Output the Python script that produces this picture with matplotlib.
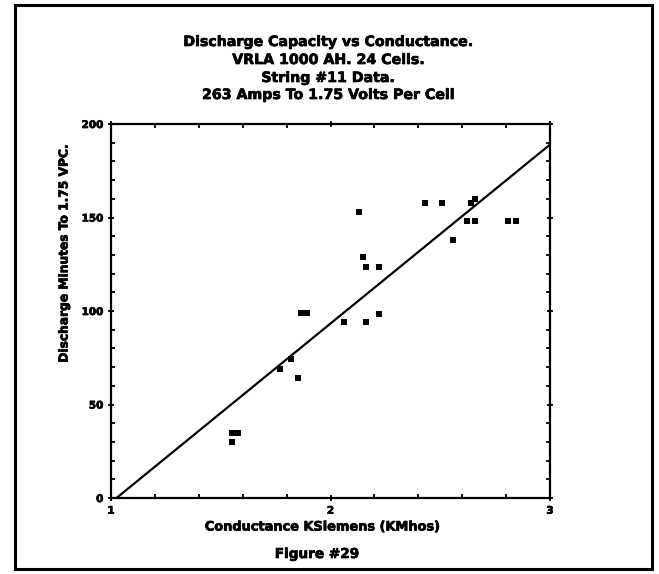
import matplotlib
matplotlib.use("Agg")
import matplotlib.pyplot as plt
import matplotlib.patheffects as pe
from matplotlib.patches import Rectangle
from matplotlib.ticker import MultipleLocator, FixedLocator

# ---- data ----
conductance = [1.55, 1.58, 1.55,
               1.77, 1.82, 1.85,
               1.866, 1.894,
               2.06, 2.16, 2.22,
               2.13, 2.15, 2.16, 2.22,
               2.43, 2.51, 2.64, 2.66,
               2.56, 2.62, 2.66, 2.81, 2.845]
minutes = [35, 35, 30,
           69, 74.5, 64,
           99, 99,
           94, 94, 98.5,
           153, 129, 123.5, 123.5,
           158, 158, 158, 160,
           138, 148, 148, 148, 148]
fit_x = [1.025, 3.0]
fit_y = [0, 189]

title_lines = ["Discharge Capacity vs Conductance.",
               "VRLA 1000 AH. 24 Cells.",
               "String #11 Data.",
               "263 Amps To 1.75 Volts Per Cell"]
x_label = "Conductance KSiemens (KMhos)"
y_label = "Discharge Minutes To 1.75 VPC."
fig_caption = "Figure #29"
x_ticks = [1, 2, 3]
y_ticks = [0, 50, 100, 150, 200]

plt.rcParams['font.family'] = ['DejaVu Sans']
W, H = 659, 574
fig = plt.figure(figsize=(W / 100, H / 100), dpi=100)
fig.patch.set_facecolor('white')

heavy = [pe.withStroke(linewidth=0.5, foreground='black')]

# outer frame
fig.patches.append(Rectangle((15 / W, 5 / H), (652 - 15) / W, (569 - 5) / H,
                             transform=fig.transFigure, fill=False,
                             edgecolor='black', linewidth=2.2))

ax = fig.add_axes([111 / W, 1 - 498 / H, (550 - 111) / W, (498 - 124) / H])
ax.set_xlim(1, 3)
ax.set_ylim(0, 200)

ax.plot(fit_x, fit_y, color='black', linewidth=1.6, solid_capstyle='butt')
ax.plot(conductance, minutes, linestyle='none', marker='s', markersize=4.9,
        color='black', markeredgewidth=0)

for s in ax.spines.values():
    s.set_linewidth(1.6)

ax.xaxis.set_major_locator(FixedLocator(x_ticks))
ax.yaxis.set_major_locator(FixedLocator(y_ticks))
ax.xaxis.set_minor_locator(MultipleLocator(0.2))
ax.yaxis.set_minor_locator(MultipleLocator(10))
ax.tick_params(which='major', direction='inout', length=5, width=1.3,
               top=True, right=True, labelsize=7.5, pad=3)
ax.tick_params(which='minor', direction='in', length=3, width=1.3,
               top=True, right=True)
ax.set_xticklabels([str(v) for v in x_ticks], fontweight='bold')
ax.set_yticklabels([str(v) for v in y_ticks], fontweight='bold')
for lab in ax.get_xticklabels() + ax.get_yticklabels():
    lab.set_path_effects(heavy)

# title lines
ys = [42, 60, 78, 95]
for t, y in zip(title_lines, ys):
    fig.text(328 / W, 1 - y / H, t, ha='center', va='center',
             fontsize=10.2, fontweight='bold', path_effects=heavy)

fig.text(322 / W, 1 - 527 / H, x_label, ha='center', va='center',
         fontsize=9.3, fontweight='bold', path_effects=heavy)
fig.text(317 / W, 1 - 554 / H, fig_caption, ha='center', va='center',
         fontsize=9.8, fontweight='bold', path_effects=heavy)
fig.text(64 / W, 1 - 253 / H, y_label, ha='center', va='center',
         rotation=90, fontsize=8.8, fontweight='bold', path_effects=heavy)

fig.savefig("out.png", dpi=100, facecolor='white')
